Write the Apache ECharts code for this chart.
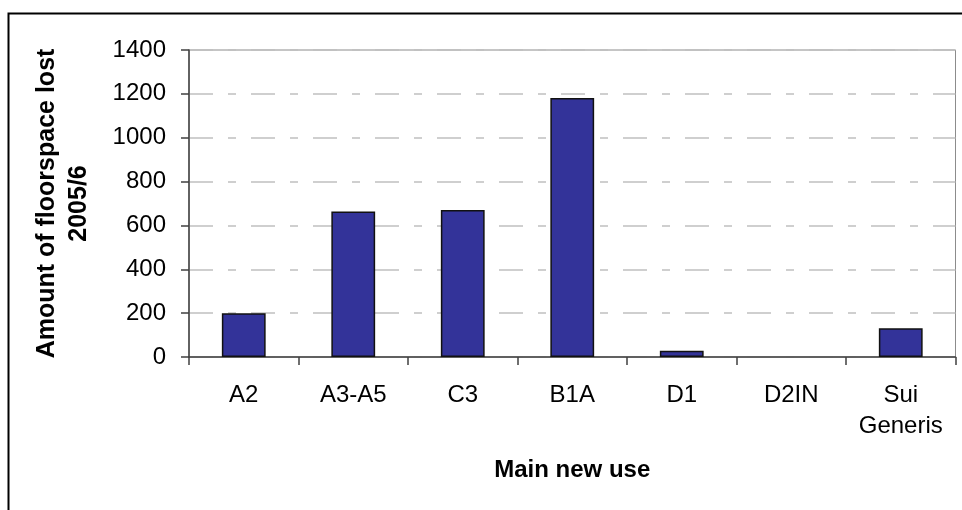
<!DOCTYPE html>
<html>
<head>
<meta charset="utf-8">
<script src="https://cdn.jsdelivr.net/npm/echarts@6/dist/echarts.min.js"></script>
<style>
html,body{margin:0;padding:0;background:#fff;}
#chart{width:962px;height:510px;}
</style>
</head>
<body>
<div id="chart"></div>
<script>
const categories = ['A2', 'A3-A5', 'C3', 'B1A', 'D1', 'D2IN', 'Sui\nGeneris'];
const floorspaceLost = [200, 664, 670, 1181, 29, 0, 131];
const yTicks = { min: 0, max: 1400, interval: 200 };
const xTitle = 'Main new use';
const yTitle = 'Amount of floorspace lost\n2005/6';

const barData = floorspaceLost.map(v => v === 0
  ? { value: v, itemStyle: { borderWidth: 0 } }
  : v);

const chart = echarts.init(document.getElementById('chart'), null, { renderer: 'canvas' });
chart.setOption({
  animation: false,
  backgroundColor: '#ffffff',
  textStyle: { fontFamily: 'Liberation Sans, Arial, sans-serif' },
  graphic: [{
    type: 'rect',
    left: 6, top: 11,
    shape: { x: 0, y: 0, width: 1000, height: 600 },
    style: { fill: 'none', stroke: '#000', lineWidth: 2 },
    z: -1
  }],
  grid: {
    left: 189, right: 6.5, top: 50, bottom: 153,
    show: true, borderColor: '#8c8c8c', borderWidth: 1, backgroundColor: 'transparent'
  },
  xAxis: {
    type: 'category',
    data: categories,
    boundaryGap: true,
    axisLine: { lineStyle: { color: '#404040', width: 1.5 } },
    axisTick: { show: true, length: 8, lineStyle: { color: '#404040', width: 1.5 } },
    axisLabel: { color: '#000', fontSize: 24, lineHeight: 31, margin: 23, interval: 0 },
    name: xTitle,
    nameLocation: 'middle',
    nameGap: 98,
    nameTextStyle: { color: '#000', fontSize: 24, fontWeight: 'bold', lineHeight: 30 }
  },
  yAxis: {
    type: 'value',
    min: yTicks.min, max: yTicks.max, interval: yTicks.interval,
    axisLine: { show: true, lineStyle: { color: '#404040', width: 1.5 } },
    axisTick: { show: true, length: 8, lineStyle: { color: '#404040', width: 1.5 } },
    axisLabel: { color: '#000', fontSize: 24, margin: 23, formatter: v => String(v) },
    splitLine: { show: true, lineStyle: { color: '#c0c0c0', width: 1.5, type: [24, 15, 8, 15] } },
    name: yTitle,
    nameLocation: 'middle',
    nameGap: 94,
    nameRotate: 90,
    nameTextStyle: { color: '#000', fontSize: 25, fontWeight: 'bold', lineHeight: 32 }
  },
  series: [{
    type: 'bar',
    data: barData,
    barWidth: '40%',
    itemStyle: { color: '#333399', borderColor: '#111', borderWidth: 1.5 }
  }]
});
</script>
</body>
</html>
